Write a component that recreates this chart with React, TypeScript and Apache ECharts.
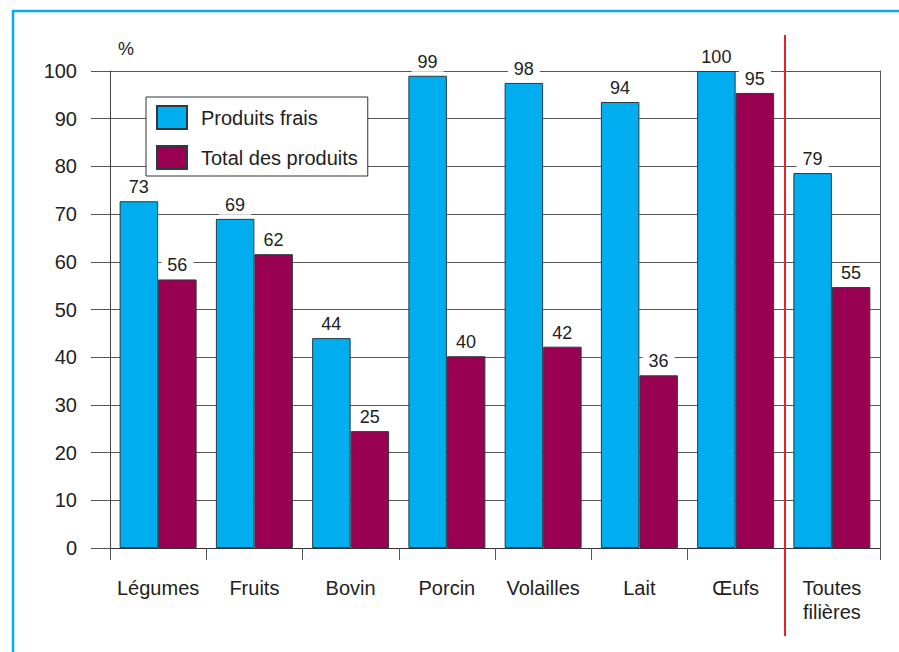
import React, { useEffect, useRef } from "react";
import * as echarts from "echarts";

const categories = ["Légumes", "Fruits", "Bovin", "Porcin", "Volailles", "Lait", "Œufs", "Toutes\nfilières"];
const produitsFrais = [72.7, 69.0, 44.0, 99.0, 97.5, 93.5, 100, 78.6];
const totalProduits = [56.3, 61.6, 24.5, 40.2, 42.2, 36.2, 95.4, 54.7];
const seriesNames = ["Produits frais", "Total des produits"];
const yTicks = { min: 0, max: 100, interval: 10 };

const FONT = "'Liberation Sans', Arial, Helvetica, sans-serif";

export default function App() {
  const ref = useRef<HTMLDivElement>(null);
  useEffect(() => {
    if (!ref.current) return;
    const chart = echarts.init(ref.current, undefined, { renderer: "svg" });
    const label = {
      show: true,
      position: "top",
      distance: 4,
      fontSize: 18,
      color: "#222",
      fontFamily: FONT,
      backgroundColor: "#fff",
      padding: [1, 6],
      formatter: (p: any) => String(Math.round(p.value)),
    };
    chart.setOption({
      animation: false,
      textStyle: { fontFamily: FONT },
      grid: { left: 110, right: 19, top: 71, bottom: 104, containLabel: false, outerBoundsMode: "none" },
      legend: {
        orient: "vertical",
        left: 146,
        top: 97,
        backgroundColor: "#fff",
        borderColor: "#333",
        borderWidth: 1,
        padding: [8, 10, 6, 10],
        itemWidth: 30,
        itemHeight: 23,
        itemGap: 15,
        icon: "rect",
        textStyle: { fontSize: 20, color: "#222", fontFamily: FONT, padding: [0, 0, 0, 9] },
        data: seriesNames,
      },
      xAxis: {
        type: "category",
        data: categories,
        axisLine: { lineStyle: { color: "#333", width: 1 } },
        axisTick: { show: true, length: 12, lineStyle: { color: "#555" } },
        axisLabel: { interval: 0, fontSize: 20, color: "#222", margin: 28, lineHeight: 24, fontFamily: FONT },
        splitLine: { show: false },
      },
      yAxis: [
        {
          type: "value",
          min: yTicks.min,
          max: yTicks.max,
          interval: yTicks.interval,
          axisLine: { show: true, lineStyle: { color: "#444" } },
          axisTick: { show: true, length: 19, lineStyle: { color: "#555" } },
          axisLabel: { fontSize: 20, color: "#222", margin: 33, fontFamily: FONT },
          splitLine: { show: true, lineStyle: { color: "#555", width: 1 } },
        },
        {
          type: "value",
          position: "right",
          min: yTicks.min,
          max: yTicks.max,
          interval: yTicks.interval,
          axisLine: { show: true, lineStyle: { color: "#555" } },
          axisTick: { show: false },
          axisLabel: { show: false },
          splitLine: { show: false },
        },
      ],
      series: [
        {
          name: seriesNames[0],
          type: "bar",
          data: produitsFrais,
          barGap: "0%",
          barCategoryGap: "20%",
          itemStyle: { color: "#00adef", borderColor: "#2a3a40", borderWidth: 1 },
          label,
        },
        {
          name: seriesNames[1],
          type: "bar",
          data: totalProduits,
          barGap: "0%",
          barCategoryGap: "20%",
          itemStyle: { color: "#9a0052", borderColor: "#2a3a40", borderWidth: 1 },
          label,
        },
      ],
      graphic: [
        {
          type: "rect",
          shape: { x: 13, y: 11, width: 920, height: 700 },
          style: { fill: "none", stroke: "#00aeef", lineWidth: 2.5 },
          silent: true,
        },
        {
          type: "line",
          shape: { x1: 785, y1: 35, x2: 785, y2: 636 },
          style: { stroke: "#e8202a", lineWidth: 2 },
          z: 100,
          silent: true,
        },
        {
          type: "text",
          x: 118,
          y: 40,
          style: { text: "%", fontSize: 18, fill: "#222", fontFamily: FONT },
          silent: true,
        },
      ],
    });
    return () => chart.dispose();
  }, []);
  return (
    <div
      ref={ref}
      style={{ position: "fixed", left: 0, top: 0, width: 899, height: 652, background: "#fff" }}
    />
  );
}
